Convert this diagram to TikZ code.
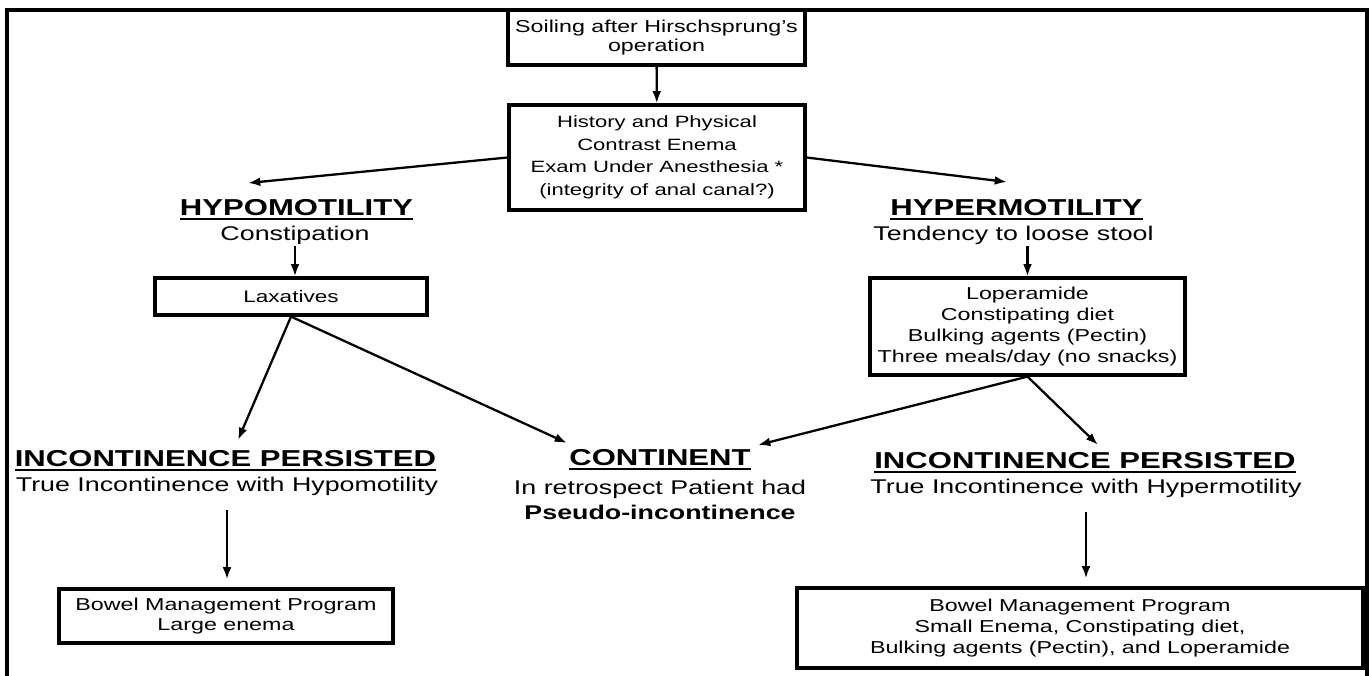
\documentclass[tikz,border=0pt]{standalone}
\usepackage{fontspec}
\setmainfont{Liberation Sans}[FakeStretch=1.35]
\usetikzlibrary{arrows.meta}

\newcommand{\hdline}[1]{\setbox0=\hbox{#1}\rlap{\rule[-3pt]{\wd0}{1.2pt}}\box0}

\tikzset{
  box/.style={draw, line width=1.8pt, align=center, inner sep=0pt,
    font=\fontsize{9.8}{11.9}\selectfont},
  head/.style={anchor=base, inner sep=1pt, font=\fontsize{13.1}{15}\selectfont\bfseries},
  sub/.style={inner sep=1pt, align=center, font=\fontsize{11.3}{14.2}\selectfont},
  arr/.style={-{Latex[length=7pt,width=5pt]}, line width=1.3pt},
}

\begin{document}
\begin{tikzpicture}
\useasboundingbox (0,0) rectangle (27.4,-13.5);
\draw[line width=1.8pt] (0.14,-13.7) -- (0.14,-0.2) -- (27.34,-0.2) -- (27.34,-13.7);

\node[box, minimum width=5.94cm, minimum height=1.1cm, font=\fontsize{9.8}{11.3}\selectfont] (soil) at (13.13,-0.75) {Soiling after Hirschsprung's\\operation};
\node[box, minimum width=5.92cm, minimum height=2.1cm, font=\fontsize{9.3}{12.8}\selectfont] (exam) at (13.14,-3.15) {History and Physical\\Contrast Enema\\Exam Under Anesthesia *\\(integrity of anal canal?)};

\node[head] (hypo) at (5.93,-4.30) {\hdline{HYPOMOTILITY}};
\node[sub, anchor=base] (constip) at (5.9,-4.8) {Constipation};
\node[box, minimum width=5.44cm, minimum height=0.74cm, font=\fontsize{9.5}{11.9}\selectfont] (lax) at (5.82,-5.93) {Laxatives};

\node[head] (hyper) at (20.33,-4.30) {\hdline{HYPERMOTILITY}};
\node[sub, anchor=base] (loose) at (20.27,-4.8) {Tendency to loose stool};
\node[box, minimum width=6.3cm, minimum height=1.94cm] (lop) at (20.55,-6.53) {Loperamide\\Constipating diet\\Bulking agents (Pectin)\\Three meals/day (no snacks)};

\node[head] (incL) at (4.51,-9.32) {\hdline{INCONTINENCE PERSISTED}};
\node[sub, anchor=base] (incLtxt) at (4.54,-9.83) {True Incontinence with Hypomotility};
\node[head] (cont) at (13.2,-9.30) {\hdline{CONTINENT}};
\node[sub] (contTxt) at (13.2,-10.0) {In retrospect Patient had\\\textbf{Pseudo-incontinence}};
\node[head] (incR) at (21.7,-9.36) {\hdline{INCONTINENCE PERSISTED}};
\node[sub, anchor=base] (incRtxt) at (21.72,-9.86) {True Incontinence with Hypermotility};

\node[box, minimum width=6.68cm, minimum height=1.08cm] (bowL) at (4.52,-12.32) {Bowel Management Program\\Large enema};
\node[box, minimum width=11.32cm, minimum height=1.6cm, font=\fontsize{9.8}{12.2}\selectfont] (bowR) at (21.6,-12.56) {Bowel Management Program\\Small Enema, Constipating diet,\\Bulking agents (Pectin), and Loperamide};

\draw[arr] (soil) -- (exam);
\draw[arr] (exam.west) -- ([xshift=-0.97cm,yshift=0.64cm]hypo.base);
\draw[arr] (exam.east) -- ([xshift=-0.19cm,yshift=0.66cm]hyper.base);
\draw[arr] (constip.south) -- (constip.south |- lax.north);
\draw[arr] (lop.north |- loose.south) -- (lop.north);
\draw[arr] (lax.south) -- ([xshift=0.25cm,yshift=0.52cm]incL.base);
\draw[arr] (lax.south) -- ([xshift=-1.86cm,yshift=0.44cm]cont.base);
\draw[arr] (lop.south) -- ([xshift=1.96cm,yshift=0.4cm]cont.base);
\draw[arr] (lop.south) -- ([xshift=0.26cm,yshift=0.46cm]incR.base);
\draw[arr, shorten <=7pt, shorten >=4.5pt] (incLtxt.south) -- (incLtxt.south |- bowL.north);
\draw[arr, shorten <=7pt, shorten >=4.5pt] (incRtxt.south) -- (incRtxt.south |- bowR.north);
\end{tikzpicture}
\end{document}
